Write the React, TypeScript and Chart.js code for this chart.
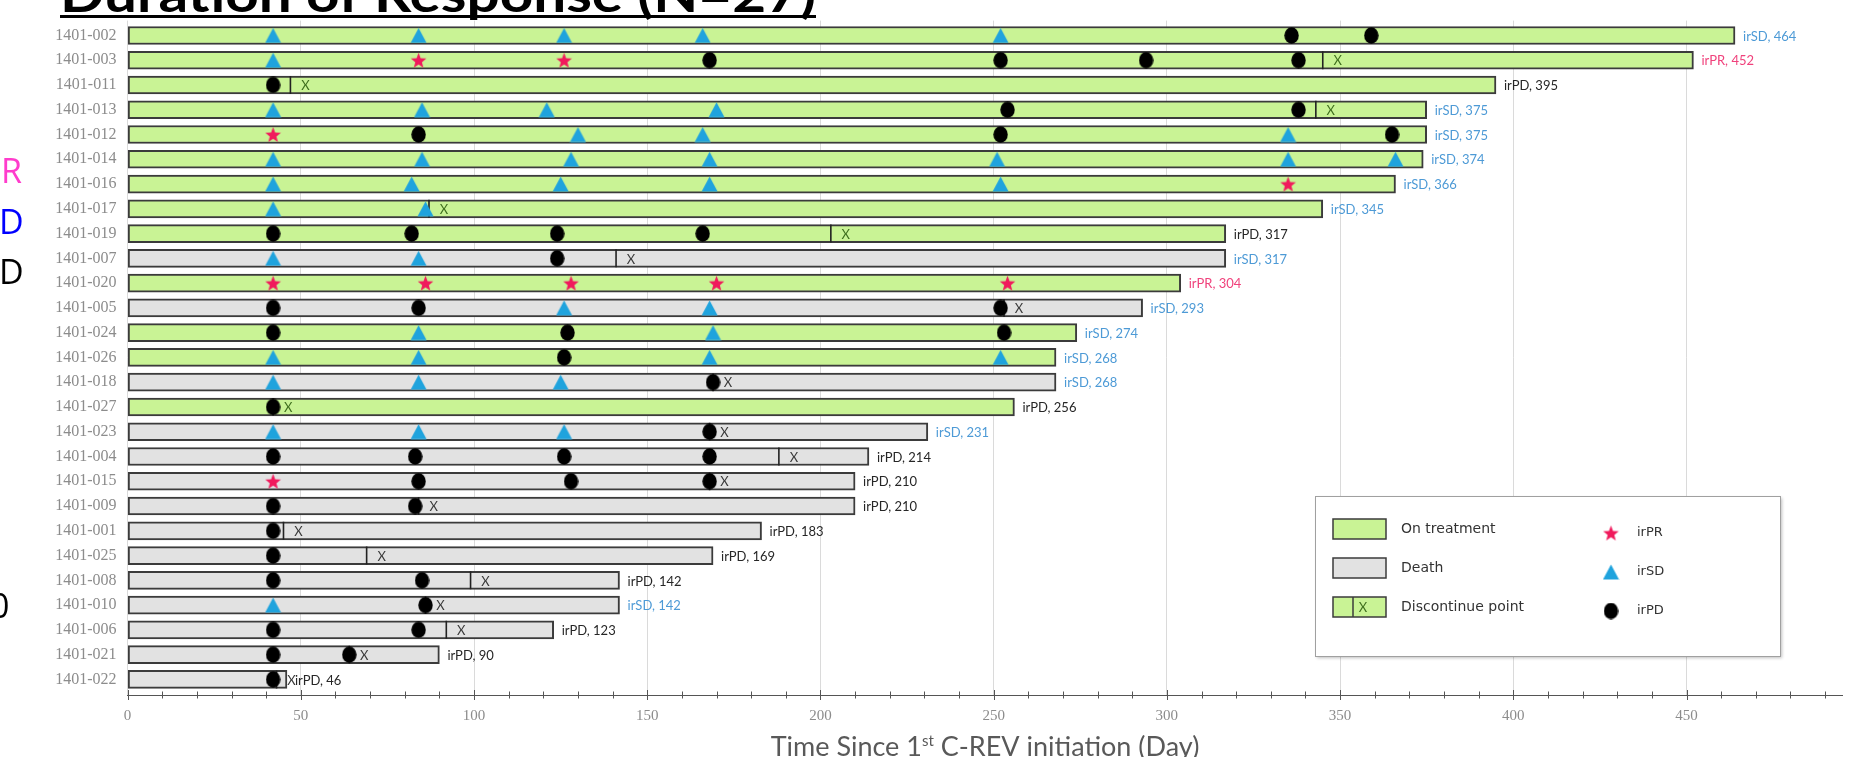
import { useEffect, useRef } from 'react';
import { Chart, registerables } from 'chart.js';

Chart.register(...registerables);

// ---------------- DATA ----------------
const patientIds = [
  '1401-002', '1401-003', '1401-011', '1401-013', '1401-012', '1401-014', '1401-016', '1401-017', '1401-019',
  '1401-007', '1401-020', '1401-005', '1401-024', '1401-026', '1401-018', '1401-027', '1401-023', '1401-004',
  '1401-015', '1401-009', '1401-001', '1401-025', '1401-008', '1401-010', '1401-006', '1401-021', '1401-022',
];
const durations = [464, 452, 395, 375, 375, 374, 366, 345, 317, 317, 304, 293, 274, 268, 268, 256, 231, 214, 210, 210, 183, 169, 142, 142, 123, 90, 46];
// T = on treatment, D = death
const status = ['T', 'T', 'T', 'T', 'T', 'T', 'T', 'T', 'T', 'D', 'T', 'D', 'T', 'T', 'D', 'T', 'D', 'D', 'D', 'D', 'D', 'D', 'D', 'D', 'D', 'D', 'D'];
const bestResponse = ['irSD', 'irPR', 'irPD', 'irSD', 'irSD', 'irSD', 'irSD', 'irSD', 'irPD', 'irSD', 'irPR', 'irSD', 'irSD', 'irSD', 'irSD', 'irPD', 'irSD', 'irPD', 'irPD', 'irPD', 'irPD', 'irPD', 'irPD', 'irSD', 'irPD', 'irPD', 'irPD'];
const discontinueDay: (number | null)[] = [null, 345, 47, 343, null, null, null, 87, 203, 141, null, 253, null, null, 169, 42, 168, 188, 168, 84, 45, 69, 99, 86, 92, 64, 43];

const irPR: [string, number][] = [
  ['1401-003', 84], ['1401-003', 126], ['1401-012', 42], ['1401-016', 335],
  ['1401-020', 42], ['1401-020', 86], ['1401-020', 128], ['1401-020', 170], ['1401-020', 254], ['1401-015', 42],
];
const irSD: [string, number][] = [
  ['1401-002', 42], ['1401-002', 84], ['1401-002', 126], ['1401-002', 166], ['1401-002', 252],
  ['1401-003', 42],
  ['1401-013', 42], ['1401-013', 85], ['1401-013', 121], ['1401-013', 170],
  ['1401-012', 130], ['1401-012', 166], ['1401-012', 335],
  ['1401-014', 42], ['1401-014', 85], ['1401-014', 128], ['1401-014', 168], ['1401-014', 251], ['1401-014', 335], ['1401-014', 366],
  ['1401-016', 42], ['1401-016', 82], ['1401-016', 125], ['1401-016', 168], ['1401-016', 252],
  ['1401-017', 42], ['1401-017', 86],
  ['1401-007', 42], ['1401-007', 84],
  ['1401-005', 126], ['1401-005', 168],
  ['1401-024', 84], ['1401-024', 169],
  ['1401-026', 42], ['1401-026', 84], ['1401-026', 168], ['1401-026', 252],
  ['1401-018', 42], ['1401-018', 84], ['1401-018', 125],
  ['1401-023', 42], ['1401-023', 84], ['1401-023', 126],
  ['1401-010', 42],
];
const irPD: [string, number][] = [
  ['1401-002', 336], ['1401-002', 359],
  ['1401-003', 168], ['1401-003', 252], ['1401-003', 294], ['1401-003', 338],
  ['1401-011', 42],
  ['1401-013', 254], ['1401-013', 338],
  ['1401-012', 84], ['1401-012', 252], ['1401-012', 365],
  ['1401-019', 42], ['1401-019', 82], ['1401-019', 124], ['1401-019', 166],
  ['1401-007', 124],
  ['1401-005', 42], ['1401-005', 84], ['1401-005', 252],
  ['1401-024', 42], ['1401-024', 127], ['1401-024', 253],
  ['1401-026', 126],
  ['1401-018', 169],
  ['1401-027', 42],
  ['1401-023', 168],
  ['1401-004', 42], ['1401-004', 83], ['1401-004', 126], ['1401-004', 168],
  ['1401-015', 84], ['1401-015', 128], ['1401-015', 168],
  ['1401-009', 42], ['1401-009', 83],
  ['1401-001', 42], ['1401-025', 42],
  ['1401-008', 42], ['1401-008', 85],
  ['1401-010', 86],
  ['1401-006', 42], ['1401-006', 84],
  ['1401-021', 42], ['1401-021', 64],
  ['1401-022', 42],
];
const xMinorStep = 10;
const xLabelStep = 50;

// ---------------- STYLE ----------------
const GREEN = '#c9f395';
const GREY = '#e2e2e2';
const BORDER = '#3b3b3b';
const STAR = '#f01a5c';
const TRI = '#1fa3dd';
const CLEAR = 'rgba(0,0,0,0)';
const respColor: Record<string, string> = { irSD: '#4d9ad6', irPR: '#f0427c', irPD: '#262626' };

function makeImg(w: number, h: number, draw: (c: CanvasRenderingContext2D, w: number, h: number) => void) {
  const c = document.createElement('canvas');
  c.width = w;
  c.height = h;
  const ctx = c.getContext('2d')!;
  draw(ctx, w, h);
  return c;
}
function starPath(ctx: CanvasRenderingContext2D, cx: number, cy: number, ro: number, ri: number) {
  ctx.beginPath();
  for (let k = 0; k < 10; k++) {
    const r = k % 2 === 0 ? ro : ri;
    const a = -Math.PI / 2 + (k * Math.PI) / 5;
    const px = cx + r * Math.cos(a);
    const py = cy + r * Math.sin(a);
    if (k === 0) ctx.moveTo(px, py); else ctx.lineTo(px, py);
  }
  ctx.closePath();
}
const starImg = makeImg(17, 17, (ctx, w, h) => {
  ctx.fillStyle = STAR;
  starPath(ctx, w / 2, h / 2 + 0.8, 8.2, 3.5);
  ctx.fill();
});
function triPath(ctx: CanvasRenderingContext2D, cx: number, cy: number, w: number, h: number) {
  ctx.beginPath();
  ctx.moveTo(cx, cy - h / 2);
  ctx.lineTo(cx + w / 2, cy + h / 2);
  ctx.lineTo(cx - w / 2, cy + h / 2);
  ctx.closePath();
}
const triImg = makeImg(17, 16, (ctx, w, h) => {
  ctx.fillStyle = TRI;
  triPath(ctx, w / 2, h / 2, 16, 15);
  ctx.fill();
});
const dotImg = makeImg(15, 17, (ctx, w, h) => {
  ctx.fillStyle = '#000';
  ctx.beginPath();
  ctx.ellipse(w / 2, h / 2, 7.2, 8.2, 0, 0, Math.PI * 2);
  ctx.fill();
});

const rowOf = (id: string) => patientIds.indexOf(id);

const overlayPlugin = {
  id: 'overlay',
  afterDatasetsDraw(chart: any) {
    const { ctx } = chart;
    const x = chart.scales.x;
    const y = chart.scales.y;
    ctx.save();
    ctx.textBaseline = 'middle';
    // discontinue "X" marks
    ctx.font = '13px Lato';
    ctx.textAlign = 'center';
    discontinueDay.forEach((d, i) => {
      if (d == null) return;
      ctx.fillStyle = status[i] === 'T' ? '#3f6f1e' : '#3a3a3a';
      ctx.fillText('X', x.getPixelForValue(d) + 15, y.getPixelForValue(i) + 1);
    });
    // end labels
    ctx.textAlign = 'left';
    ctx.font = '13px Lato';
    durations.forEach((d, i) => {
      ctx.fillStyle = respColor[bestResponse[i]];
      ctx.fillText(`${bestResponse[i]}, ${d}`, x.getPixelForValue(d) + 8, y.getPixelForValue(i) + 1);
    });
    ctx.restore();
  },
  afterDraw(chart: any) {
    const { ctx, chartArea } = chart;
    const x = chart.scales.x;
    ctx.save();
    // minor / major ticks crossing the axis
    ctx.strokeStyle = '#555';
    ctx.lineWidth = 1;
    for (let v = 0; v <= x.max; v += xMinorStep) {
      const px = Math.round(x.getPixelForValue(v)) + 0.5;
      const len = v % xLabelStep === 0 ? 5 : 3.5;
      ctx.beginPath();
      ctx.moveTo(px, chartArea.bottom - len);
      ctx.lineTo(px, chartArea.bottom + len);
      ctx.stroke();
    }

    // Title (cropped at the top)
    ctx.fillStyle = '#000';
    ctx.font = 'bold 50px Lato';
    ctx.textBaseline = 'alphabetic';
    ctx.textAlign = 'left';
    const title = 'Duration of Response (N=27)';
    const tw = ctx.measureText(title).width;
    const targetW = 756;
    ctx.save();
    ctx.translate(60, 12);
    ctx.scale(targetW / tw, 1);
    ctx.fillText(title, 0, 0);
    ctx.restore();
    ctx.fillRect(60, 15, targetW, 3);

    // cropped side text fragments
    ctx.font = '34px "Open Sans"';
    ctx.textBaseline = 'middle';
    ctx.fillStyle = '#ff3ccc';
    ctx.fillText('R', 1, 173);
    ctx.fillStyle = '#0000ff';
    ctx.fillText('D', -1, 224);
    ctx.fillStyle = '#000';
    ctx.fillText('D', -1, 274);
    ctx.fillText('0', -10, 608);

    // X axis title with superscript
    ctx.fillStyle = '#595959';
    const cx = (chartArea.left + chartArea.right) / 2;
    const p1 = 'Time Since 1';
    const sup = 'st';
    const p2 = ' C-REV initiation (Day)';
    ctx.font = '27px Lato';
    const w1 = ctx.measureText(p1).width;
    const w3 = ctx.measureText(p2).width;
    ctx.font = '15px Lato';
    const w2 = ctx.measureText(sup).width;
    const total = w1 + w2 + w3;
    let sx = cx - total / 2;
    const by = 756;
    ctx.textBaseline = 'alphabetic';
    ctx.font = '27px Lato';
    ctx.fillText(p1, sx, by);
    sx += w1;
    ctx.font = '15px Lato';
    ctx.fillText(sup, sx, by - 10);
    sx += w2;
    ctx.font = '27px Lato';
    ctx.fillText(p2, sx, by);

    // Legend box
    const lx = 1315, ly = 496, lw = 465, lh = 160;
    ctx.save();
    ctx.shadowColor = 'rgba(0,0,0,0.25)';
    ctx.shadowBlur = 3;
    ctx.shadowOffsetX = 2;
    ctx.shadowOffsetY = 2;
    ctx.fillStyle = '#fff';
    ctx.fillRect(lx, ly, lw, lh);
    ctx.restore();
    ctx.strokeStyle = '#a0a0a0';
    ctx.lineWidth = 1;
    ctx.strokeRect(lx + 0.5, ly + 0.5, lw, lh);

    const rows = [ly + 33, ly + 72, ly + 111];
    const rx = 1333, rw = 53, rh = 20;
    ctx.lineWidth = 1.5;
    ctx.strokeStyle = BORDER;
    [GREEN, GREY, GREEN].forEach((c, k) => {
      ctx.fillStyle = c;
      ctx.fillRect(rx, rows[k] - rh / 2, rw, rh);
      ctx.strokeRect(rx, rows[k] - rh / 2, rw, rh);
    });
    ctx.beginPath();
    ctx.moveTo(rx + 20, rows[2] - rh / 2);
    ctx.lineTo(rx + 20, rows[2] + rh / 2);
    ctx.stroke();
    ctx.font = '13px Lato';
    ctx.textBaseline = 'middle';
    ctx.textAlign = 'center';
    ctx.fillStyle = '#3f6f1e';
    ctx.fillText('X', rx + 30, rows[2] + 1);

    ctx.textAlign = 'left';
    ctx.fillStyle = '#333';
    ctx.font = '14px "DejaVu Sans"';
    ctx.fillText('On treatment', 1401, rows[0]);
    ctx.fillText('Death', 1401, rows[1]);
    ctx.fillText('Discontinue point', 1401, rows[2]);

    const mx = 1611;
    const mrows = [rows[0] + 4, rows[1] + 4, rows[2] + 4];
    ctx.drawImage(starImg, mx - 8.5, mrows[0] - 8.5);
    ctx.drawImage(triImg, mx - 8.5, mrows[1] - 8);
    ctx.drawImage(dotImg, mx - 7.5, mrows[2] - 8.5);
    ctx.font = '13px "DejaVu Sans"';
    ctx.fillText('irPR', 1637, mrows[0]);
    ctx.fillText('irSD', 1637, mrows[1]);
    ctx.fillText('irPD', 1637, mrows[2]);
    ctx.restore();
  },
};

export default function App() {
  const ref = useRef<HTMLCanvasElement | null>(null);

  useEffect(() => {
    if (!ref.current) return;
    const toPoints = (arr: [string, number][]) => arr.map(([id, d]) => ({ x: d, y: rowOf(id) }));
    const discPoints = discontinueDay
      .map((d, i) => (d == null ? null : { x: d, y: i }))
      .filter((p) => p !== null) as { x: number; y: number }[];

    const chart = new Chart(ref.current, {
      type: 'bar',
      data: {
        datasets: [
          {
            type: 'bar',
            label: 'Duration',
            data: durations.map((d, i) => ({ x: d, y: i })),
            backgroundColor: status.map((s) => (s === 'T' ? GREEN : GREY)),
            borderColor: BORDER,
            borderWidth: 2,
            borderSkipped: false,
            barThickness: 18,
            order: 10,
          } as any,
          {
            type: 'scatter',
            label: 'Discontinue point',
            data: discPoints,
            pointStyle: 'line',
            pointRotation: 90,
            pointRadius: 9,
            pointBorderColor: '#222',
            pointBorderWidth: 1.6,
            order: 5,
          } as any,
          {
            type: 'scatter',
            label: 'irPR',
            data: toPoints(irPR),
            pointStyle: starImg,
            pointRadius: 8,
            order: 1,
          } as any,
          {
            type: 'scatter',
            label: 'irSD',
            data: toPoints(irSD),
            pointStyle: triImg,
            pointRadius: 8,
            order: 1,
          } as any,
          {
            type: 'scatter',
            label: 'irPD',
            data: toPoints(irPD),
            pointStyle: dotImg,
            pointRadius: 8,
            order: 1,
          } as any,
        ],
      },
      options: {
        indexAxis: 'y',
        responsive: false,
        animation: false,
        devicePixelRatio: 1,
        layout: { padding: { top: 20.6, right: 0, bottom: 0, left: 0 } },
        plugins: { legend: { display: false }, tooltip: { enabled: false }, title: { display: false } },
        scales: {
          x: {
            type: 'linear',
            offset: false,
            min: 0,
            max: 495,
            afterFit: (s: any) => { s.height = 62; },
            border: { display: true, color: '#555', width: 1 },
            grid: {
              offset: false,
              drawTicks: true,
              tickLength: 12,
              tickColor: CLEAR,
              color: (c: any) => (c.tick && c.tick.value % xLabelStep === 0 ? '#dadada' : CLEAR),
              lineWidth: 1,
            },
            ticks: {
              stepSize: 5,
              autoSkip: false,
              maxRotation: 0,
              padding: 0,
              color: '#8c8c8c',
              font: { family: '"Liberation Serif"', size: 15 },
              callback: (v: any) => (Number(v) % xLabelStep === 0 ? String(v) : ''),
            },
          },
          y: {
            type: 'linear',
            offset: false,
            reverse: true,
            min: -0.6,
            max: 26.63,
            afterFit: (s: any) => { s.width = 127.6; },
            afterBuildTicks: (s: any) => { s.ticks = patientIds.map((_, i) => ({ value: i })); },
            border: { display: false },
            grid: { display: true, offset: false, color: CLEAR, drawTicks: true, tickLength: 11, tickColor: CLEAR },
            ticks: {
              autoSkip: false,
              padding: 0,
              color: '#8c8c8c',
              font: { family: '"Liberation Serif"', size: 16 },
              callback: (v: any) => patientIds[Number(v)] ?? '',
            },
          },
        },
      } as any,
      plugins: [overlayPlugin],
    });
    return () => chart.destroy();
  }, []);

  return (
    <div style={{ position: 'fixed', left: 0, top: 0, width: 1853, height: 757, background: '#fff', overflow: 'hidden' }}>
      <canvas ref={ref} width={1853} height={757} style={{ display: 'block', width: 1853, height: 757 }} />
    </div>
  );
}
